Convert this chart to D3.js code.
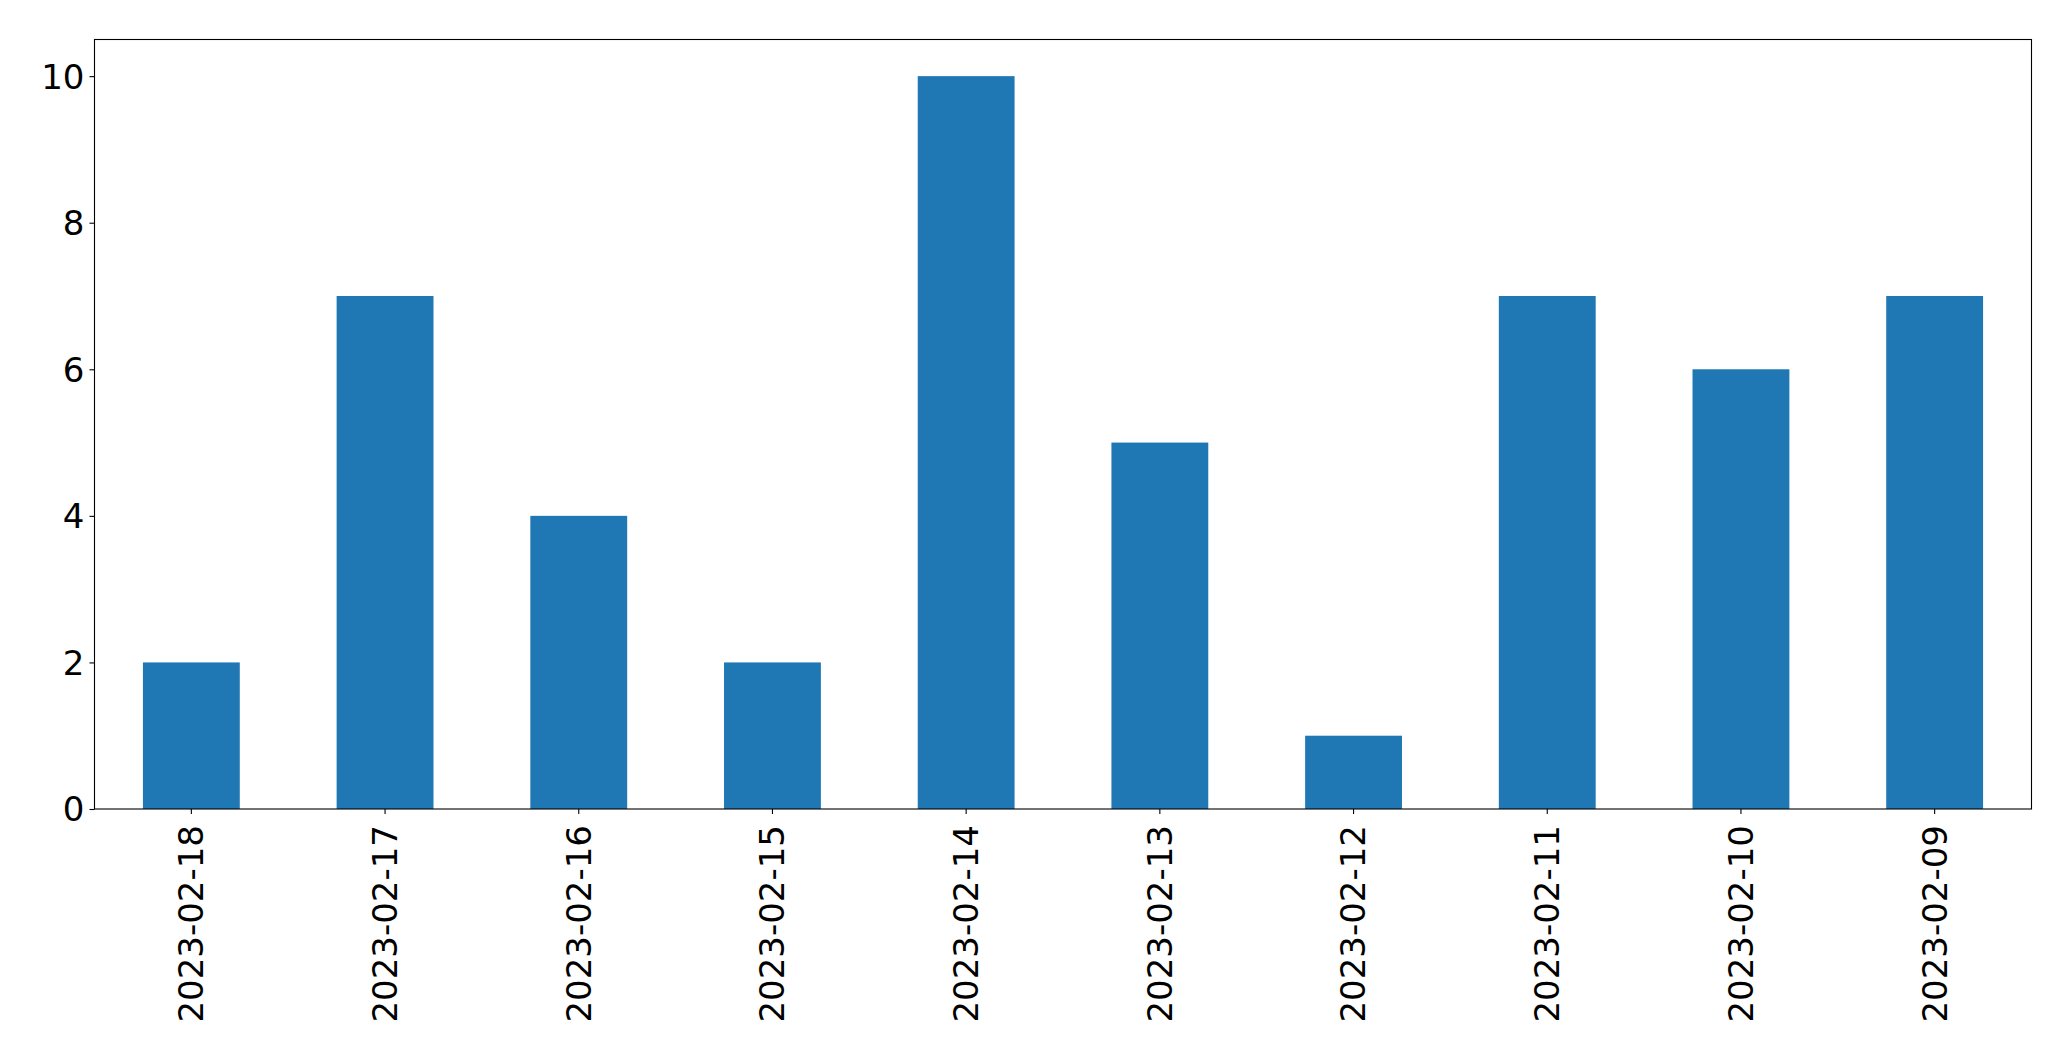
<!DOCTYPE html>
<html>
<head>
<meta charset="utf-8">
<script src="https://cdn.jsdelivr.net/npm/d3@7/dist/d3.min.js"></script>
<style>
  body { margin: 0; background: #fff; }
  svg { display: block; }
  text { font-family: "DejaVu Sans", sans-serif; fill: #000; }
</style>
</head>
<body>
<svg id="chart" width="2071" height="1061"></svg>
<script>
const categories = ["2023-02-18","2023-02-17","2023-02-16","2023-02-15","2023-02-14","2023-02-13","2023-02-12","2023-02-11","2023-02-10","2023-02-09"];
const values = [2, 7, 4, 2, 10, 5, 1, 7, 6, 7];
const yTicks = [0, 2, 4, 6, 8, 10];

const svg = d3.select("#chart");
const plotLeft = 94.5, plotRight = 2031.5, plotTop = 39.5, plotBottom = 809;
const fontSize = 34;

const x = d3.scaleBand().domain(categories).range([plotLeft, plotRight]).paddingInner(0.5).paddingOuter(0.25);
const y = d3.scaleLinear().domain([0, 10.5]).range([plotBottom, plotTop]);

svg.append("g").selectAll("rect").data(values).join("rect")
  .attr("x", (d, i) => x(categories[i]))
  .attr("width", x.bandwidth())
  .attr("y", d => y(d))
  .attr("height", d => y(0) - y(d))
  .attr("fill", "#1f77b4");

// frame
svg.append("rect").attr("x", plotLeft).attr("y", plotTop).attr("width", plotRight - plotLeft).attr("height", plotBottom - plotTop)
  .attr("fill", "none").attr("stroke", "#000").attr("stroke-width", 1.1);

// y axis
const yAxis = d3.axisLeft(y).tickValues(yTicks).tickSize(5).tickPadding(5).tickFormat(d3.format("d"));
const yg = svg.append("g").attr("transform", `translate(${plotLeft},0)`).call(yAxis);
yg.select(".domain").remove();
yg.selectAll(".tick line").attr("stroke", "#000").attr("stroke-width", 1.1);
yg.selectAll(".tick text").attr("font-size", fontSize).attr("font-family", "DejaVu Sans").attr("fill", "#000").attr("dy", "0.35em");

// x axis
const xAxis = d3.axisBottom(x).tickSize(5).tickPadding(5);
const xg = svg.append("g").attr("transform", `translate(0,${plotBottom})`).call(xAxis);
xg.select(".domain").remove();
xg.selectAll(".tick line").attr("stroke", "#000").attr("stroke-width", 1.1);
xg.selectAll(".tick text")
  .attr("font-size", fontSize).attr("font-family", "DejaVu Sans").attr("fill", "#000")
  .attr("text-anchor", "end")
  .attr("x", 0).attr("y", 0).attr("dy", "0.35em")
  .attr("transform", "translate(0,16) rotate(-90)");
</script>
</body>
</html>
